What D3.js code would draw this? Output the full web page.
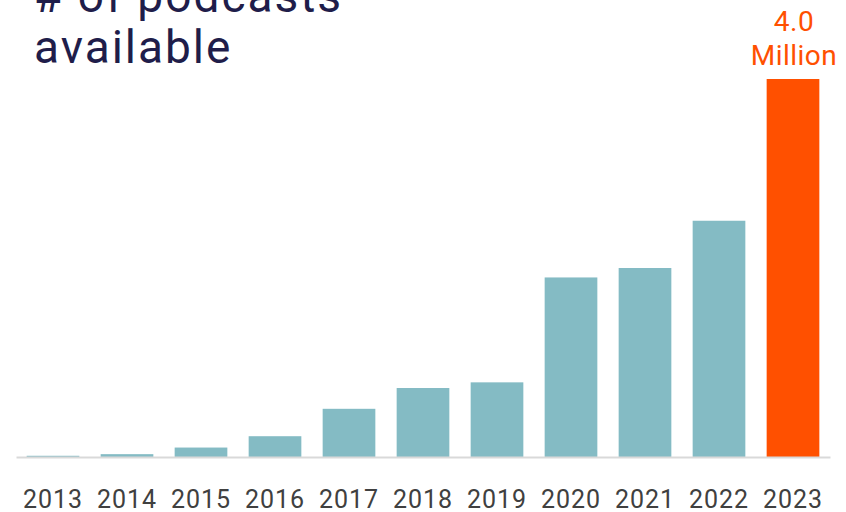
<!DOCTYPE html>
<html>
<head>
<meta charset="utf-8">
<script src="https://cdn.jsdelivr.net/npm/d3@7"></script>
<style>
  html, body { margin: 0; padding: 0; background: #ffffff; }
  svg { display: block; }
</style>
</head>
<body>
<svg id="chart" width="846" height="512"></svg>
<script>
// Number of podcasts available per year, in millions
const years = ["2013", "2014", "2015", "2016", "2017", "2018", "2019", "2020", "2021", "2022", "2023"];
const podcasts = [0.013, 0.03, 0.10, 0.22, 0.51, 0.73, 0.79, 1.90, 2.00, 2.50, 4.0];
const titleLines = ["# of podcasts", "available"];
const highlightYear = "2023";
const highlightLabel = ["4.0", "Million"];

const data = years.map((y, i) => ({ year: y, value: podcasts[i] }));

const svg = d3.select("#chart");
const baseY = 457, topY = 79;

const x = d3.scaleBand()
  .domain(years)
  .range([16, 830])
  .paddingInner(0.288)
  .paddingOuter(0.144);

const y = d3.scaleLinear()
  .domain([0, d3.max(podcasts)])
  .range([baseY, topY]);

const teal = "#84bbc4";
const orange = "#ff5000";
const fontFamily = "Roboto, 'Open Sans', sans-serif";

// Title
const title = svg.append("text")
  .attr("x", 34)
  .attr("y", 12)
  .attr("font-family", fontFamily)
  .attr("font-size", 46)
  .attr("letter-spacing", 2)
  .attr("fill", "#1f1d4a");
title.selectAll("tspan")
  .data(titleLines)
  .join("tspan")
  .attr("x", 34)
  .attr("dy", (d, i) => i === 0 ? 0 : 51)
  .text(d => d);

// Bars
svg.append("g")
  .selectAll("rect")
  .data(data)
  .join("rect")
  .attr("x", d => x(d.year))
  .attr("width", x.bandwidth())
  .attr("y", d => y(d.value))
  .attr("height", d => baseY - y(d.value))
  .attr("fill", d => d.year === highlightYear ? orange : teal);

// Baseline axis with year labels
const axis = svg.append("g")
  .attr("transform", `translate(0,${baseY})`)
  .call(d3.axisBottom(x).tickSize(0).tickSizeOuter(0));
axis.select(".domain")
  .attr("stroke", "#d9d9d9")
  .attr("stroke-width", 2);
axis.selectAll(".tick text")
  .attr("y", 51)
  .attr("dy", 0)
  .attr("font-family", fontFamily)
  .attr("font-size", 25)
  .attr("letter-spacing", 1)
  .attr("fill", "#404040");

// Value label over the highlighted bar
const hl = data.find(d => d.year === highlightYear);
const lbl = svg.append("text")
  .attr("text-anchor", "middle")
  .attr("font-family", fontFamily)
  .attr("font-size", 28)
  .attr("letter-spacing", 0.5)
  .attr("fill", orange);
lbl.selectAll("tspan")
  .data(highlightLabel)
  .join("tspan")
  .attr("x", x(hl.year) + x.bandwidth() / 2 + 1)
  .attr("y", (d, i) => y(hl.value) - 14 - (highlightLabel.length - 1 - i) * 34)
  .text(d => d);
</script>
</body>
</html>
